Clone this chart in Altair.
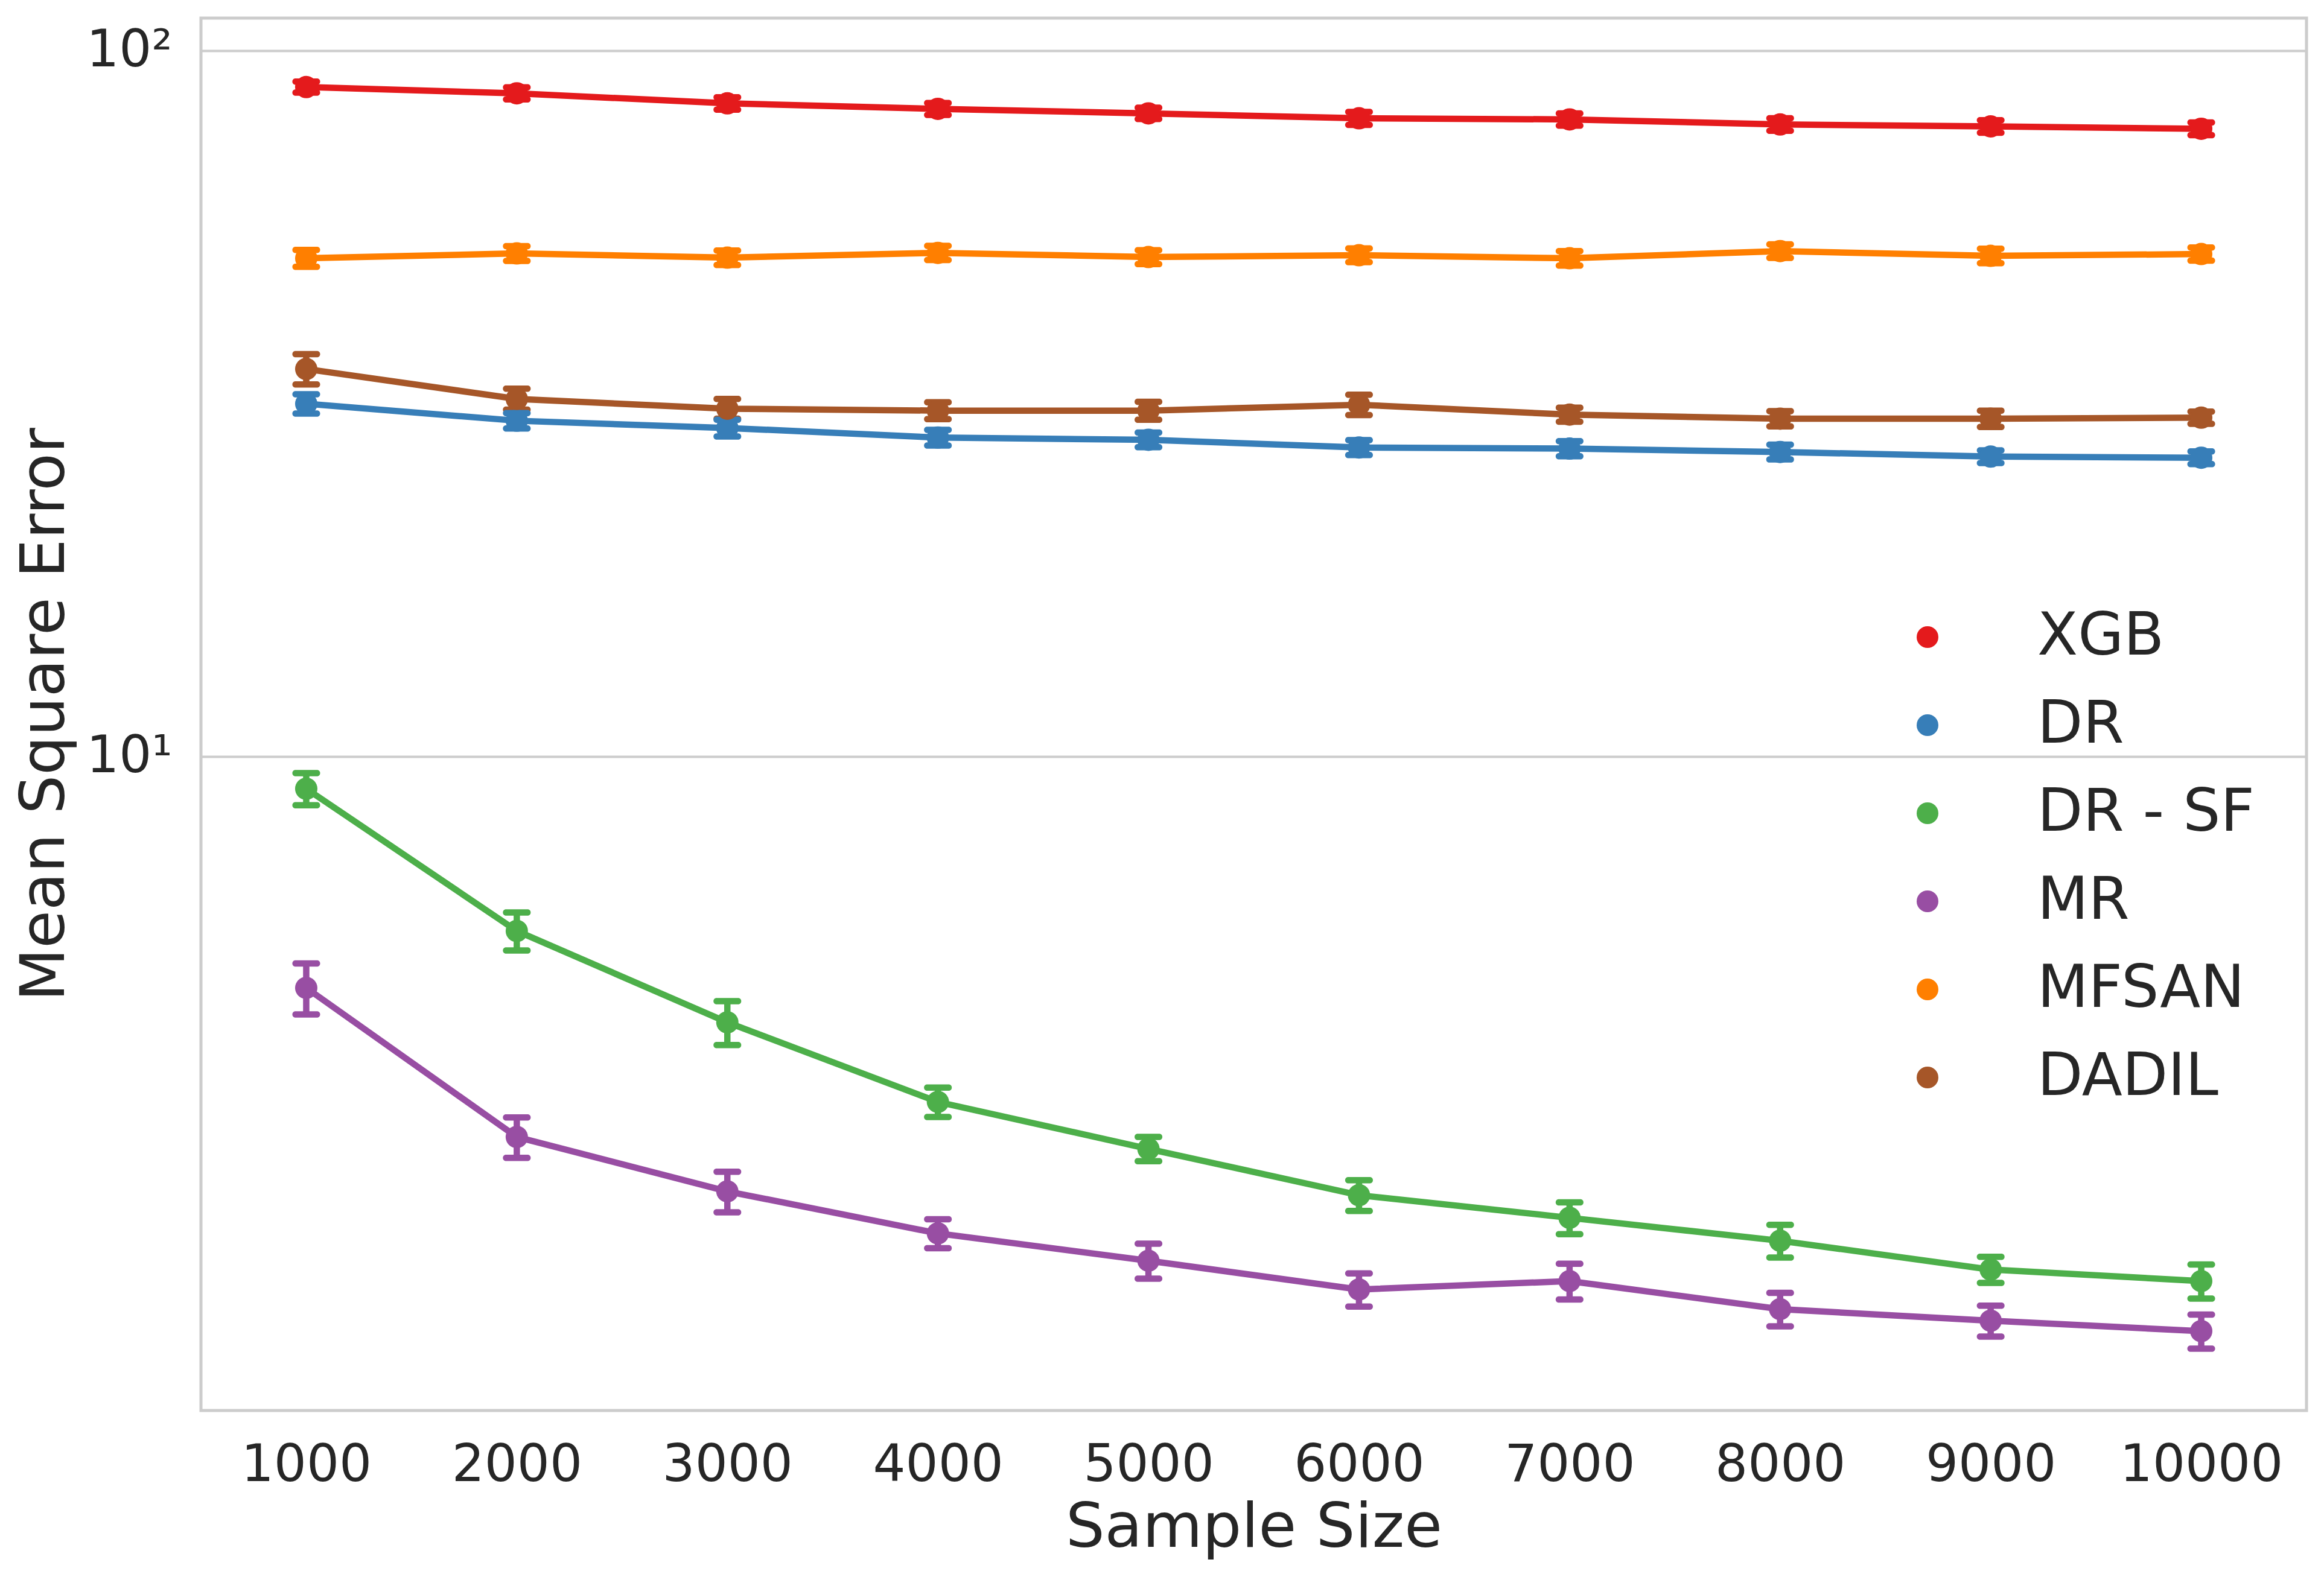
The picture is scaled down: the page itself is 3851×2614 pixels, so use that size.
import altair as alt
import pandas as pd

sizes = [1000, 2000, 3000, 4000, 5000, 6000, 7000, 8000, 9000, 10000]
methods = ["XGB", "DR", "DR - SF", "MR", "MFSAN", "DADIL"]
colors = ["#e41a1c", "#377eb8", "#4daf4a", "#984ea3", "#ff7f00", "#a65628"]

xgb_mse = [88.8, 87.0, 84.2, 82.7, 81.5, 80.2, 79.9, 78.6, 78.1, 77.5]
xgb_err = [1.6, 1.7, 1.7, 1.6, 1.5, 1.7, 1.6, 1.6, 1.6, 1.6]
dr_mse = [31.6, 29.9, 29.2, 28.3, 28.1, 27.4, 27.3, 27.0, 26.6, 26.5]
dr_err = [1.0, 0.75, 0.8, 0.72, 0.67, 0.67, 0.67, 0.65, 0.55, 0.55]
drsf_mse = [9.00, 5.66, 4.20, 3.24, 2.78, 2.39, 2.22, 2.06, 1.875, 1.806]
drsf_err = [0.47, 0.35, 0.30, 0.155, 0.11, 0.12, 0.115, 0.11, 0.08, 0.10]
mr_mse = [4.70, 2.89, 2.42, 2.11, 1.93, 1.757, 1.806, 1.648, 1.587, 1.534]
mr_err = [0.39, 0.19, 0.16, 0.10, 0.11, 0.095, 0.105, 0.09, 0.08, 0.085]
mfsan_mse = [50.8, 51.6, 50.9, 51.7, 51.0, 51.3, 50.8, 52.0, 51.2, 51.5]
mfsan_err = [1.4, 1.25, 1.2, 1.2, 1.15, 1.15, 1.2, 1.15, 1.2, 1.1]
dadil_mse = [35.4, 32.1, 31.1, 30.9, 30.9, 31.5, 30.5, 30.1, 30.1, 30.2]
dadil_err = [1.75, 1.1, 1.0, 0.85, 0.9, 1.05, 0.7, 0.75, 0.8, 0.6]

series = {
    "XGB": (xgb_mse, xgb_err),
    "DR": (dr_mse, dr_err),
    "DR - SF": (drsf_mse, drsf_err),
    "MR": (mr_mse, mr_err),
    "MFSAN": (mfsan_mse, mfsan_err),
    "DADIL": (dadil_mse, dadil_err),
}

rows = []
for m in methods:
    vals, errs = series[m]
    for s, v, e in zip(sizes, vals, errs):
        rows.append({"size": s, "method": m, "mse": v, "lo": v - e, "hi": v + e})
df = pd.DataFrame(rows)

TXT = "#262626"
FONT = "DejaVu Sans"

x_axis = alt.Axis(values=sizes, format="d", title="Sample Size", grid=False,
                  ticks=False, domain=False, labelFontSize=85, labelPadding=49,
                  labelLimit=0, labelFlush=False, labelOverlap=False,
                  titleFontSize=102, titlePadding=11, labelColor=TXT, titleColor=TXT,
                  labelFont=FONT, titleFont=FONT, titleFontWeight="normal")
y_axis = alt.Axis(values=[10, 100], labelExpr="datum.value >= 100 ? '10²' : '10¹'",
                  title="Mean Square Error", grid=True, gridColor="#cccccc", gridWidth=4,
                  ticks=False, domain=False, labelFontSize=85, labelPadding=48,
                  labelLimit=0, labelFlush=False,
                  titleFontSize=102, titlePadding=16, labelColor=TXT, titleColor=TXT,
                  labelFont=FONT, titleFont=FONT, titleFontWeight="normal")

xs = alt.Scale(domain=[500, 10500], nice=False, zero=False)
ys = alt.Scale(type="log", domain=[1.184, 111.2], nice=False)

X = alt.X("size:Q", scale=xs, axis=x_axis)
color_nl = alt.Color("method:N", scale=alt.Scale(domain=methods, range=colors), legend=None)
color_lg = alt.Color("method:N", scale=alt.Scale(domain=methods, range=colors),
                     legend=alt.Legend(title=None, orient="none", legendX=2812, legendY=977,
                                       labelFontSize=98, labelColor=TXT, labelFont=FONT,
                                       symbolSize=1296, symbolType="circle", labelOffset=133,
                                       rowPadding=48, padding=0, symbolStrokeWidth=0,
                                       symbolOpacity=1, labelLimit=0))

base = alt.Chart(df)

lines = base.mark_line(strokeWidth=10.5).encode(
    x=X, y=alt.Y("mse:Q", scale=ys, axis=y_axis), color=color_nl)
rules = base.mark_rule(strokeWidth=10.5).encode(
    x=X, y=alt.Y("lo:Q", scale=ys, axis=y_axis), y2="hi:Q", color=color_nl)
cap_lo = base.mark_tick(orient="horizontal", size=46, thickness=10.5, cornerRadius=5, opacity=1).encode(
    x=X, y=alt.Y("lo:Q", scale=ys, axis=y_axis), color=color_nl)
cap_hi = base.mark_tick(orient="horizontal", size=46, thickness=10.5, cornerRadius=5, opacity=1).encode(
    x=X, y=alt.Y("hi:Q", scale=ys, axis=y_axis), color=color_nl)
points = base.mark_circle(size=1369, opacity=1).encode(
    x=X, y=alt.Y("mse:Q", scale=ys, axis=y_axis), color=color_lg)

chart = alt.layer(lines, rules, cap_lo, cap_hi, points).resolve_legend(
    color="independent"
).properties(
    width=3489, height=2308,
    autosize=alt.AutoSizeParams(type="none"),
    padding={"left": 325, "top": 22, "right": 21, "bottom": 268},
    background="white",
).configure_view(stroke="#cccccc", strokeWidth=5)

chart.save("out.html", embed_options={"renderer": "svg", "actions": False})
